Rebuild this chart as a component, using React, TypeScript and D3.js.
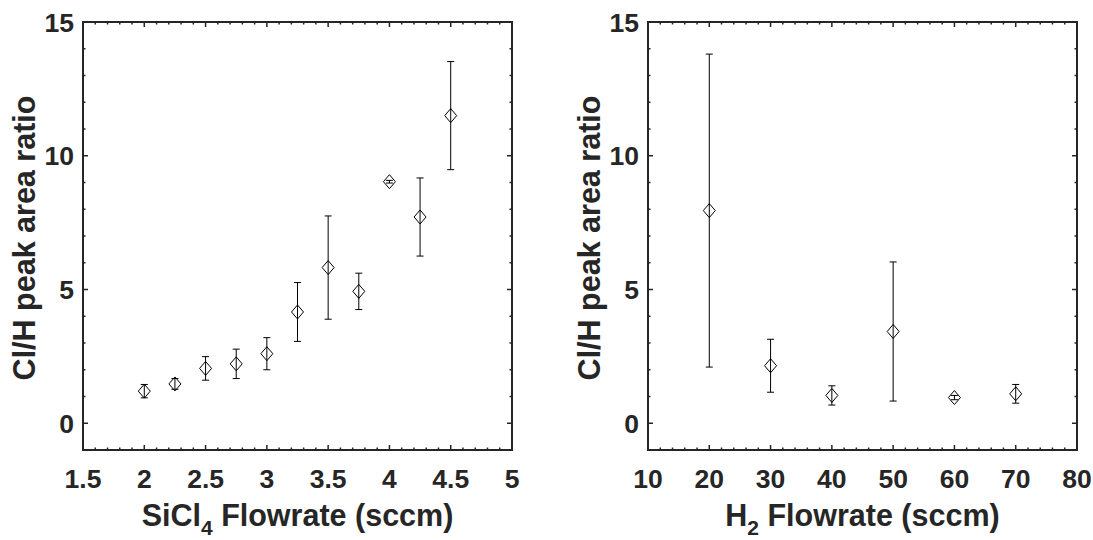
import React from "react";
import * as d3 from "d3";

const sicl4X = [2, 2.25, 2.5, 2.75, 3, 3.25, 3.5, 3.75, 4, 4.25, 4.5];
const sicl4Y = [1.2, 1.47, 2.05, 2.22, 2.6, 4.16, 5.82, 4.93, 9.03, 7.71, 11.5];
const sicl4Err = [0.25, 0.2, 0.44, 0.55, 0.6, 1.1, 1.93, 0.68, 0.05, 1.46, 2.02];

const h2X = [20, 30, 40, 50, 60, 70];
const h2Y = [7.95, 2.15, 1.04, 3.43, 0.96, 1.1];
const h2Err = [5.85, 0.99, 0.36, 2.6, 0.08, 0.35];

const leftXTicks = [1.5, 2, 2.5, 3, 3.5, 4, 4.5, 5];
const rightXTicks = [10, 20, 30, 40, 50, 60, 70, 80];
const yTicks = [0, 5, 10, 15];

const TXT = "#262626";
const FONT = "'Liberation Sans', Arial, sans-serif";

type PanelProps = {
  x0: number;
  xDomain: [number, number];
  xTicks: number[];
  xMinorStep: number;
  xs: number[];
  ys: number[];
  errs: number[];
  fmt: (v: number) => string;
  titleMain: string;
  titleSub: string;
  titleRest: string;
  yTitleX: number;
};

function Panel(p: PanelProps) {
  const top = 22;
  const bottom = 450;
  const w = 429;
  const x = d3.scaleLinear().domain(p.xDomain).range([p.x0, p.x0 + w]);
  const y = d3.scaleLinear().domain([-1, 15]).range([bottom, top]);
  const xMinor = d3.range(p.xDomain[0], p.xDomain[1] + 1e-9, p.xMinorStep);
  const yMinor = d3.range(-1, 15.0001, 1);
  const majL = 5;
  const minL = 2.5;
  const isMajorX = (v: number) => p.xTicks.some((t) => Math.abs(t - v) < 1e-6);
  const isMajorY = (v: number) => yTicks.some((t) => Math.abs(t - v) < 1e-6);
  const left = p.x0;
  const right = p.x0 + w;
  return (
    <g>
      {xMinor.map((v, i) => {
        const L = isMajorX(v) ? majL : minL;
        const xx = x(v);
        return (
          <g key={"xt" + i} stroke={TXT} strokeWidth={1.5}>
            <line x1={xx} x2={xx} y1={bottom} y2={bottom - L} />
            <line x1={xx} x2={xx} y1={top} y2={top + L} />
          </g>
        );
      })}
      {yMinor.map((v, i) => {
        const L = isMajorY(v) ? majL : minL;
        const yy = y(v);
        return (
          <g key={"yt" + i} stroke={TXT} strokeWidth={1.5}>
            <line x1={left} x2={left + L} y1={yy} y2={yy} />
            <line x1={right} x2={right - L} y1={yy} y2={yy} />
          </g>
        );
      })}
      <rect x={left} y={top} width={w} height={bottom - top} fill="none" stroke={TXT} strokeWidth={2} />
      {p.xTicks.map((t, i) => (
        <text
          key={"xl" + i}
          x={x(t)}
          y={488}
          textAnchor="middle"
          fontFamily={FONT}
          fontWeight="bold"
          fontSize={26.5}
          fill={TXT}
        >
          {p.fmt(t)}
        </text>
      ))}
      {yTicks.map((t, i) => (
        <text
          key={"yl" + i}
          x={left - 9}
          y={y(t) + 9.5}
          textAnchor="end"
          fontFamily={FONT}
          fontWeight="bold"
          fontSize={26.5}
          fill={TXT}
        >
          {t}
        </text>
      ))}
      <text
        x={(left + right) / 2}
        y={526}
        textAnchor="middle"
        fontFamily={FONT}
        fontWeight="bold"
        fontSize={30.5}
        fill={TXT}
      >
        {p.titleMain}
        <tspan dy={9} fontSize={21}>
          {p.titleSub}
        </tspan>
        <tspan dy={-9}>{" " + p.titleRest}</tspan>
      </text>
      <text
        transform={`translate(${p.yTitleX},${(top + bottom) / 2 + 2}) rotate(-90)`}
        textAnchor="middle"
        fontFamily={FONT}
        fontWeight="bold"
        fontSize={30.5}
        fill={TXT}
      >
        Cl/H peak area ratio
      </text>
      {p.xs.map((xv, i) => {
        const cx = x(xv);
        const cy = y(p.ys[i]);
        const yt = y(p.ys[i] + p.errs[i]);
        const yb = y(p.ys[i] - p.errs[i]);
        const cap = 3.5;
        return (
          <g key={"pt" + i} stroke="#000" strokeWidth={1} fill="none">
            <line x1={cx} x2={cx} y1={yt} y2={yb} />
            <line x1={cx - cap} x2={cx + cap} y1={yt} y2={yt} />
            <line x1={cx - cap} x2={cx + cap} y1={yb} y2={yb} />
            <path d={`M${cx},${cy - 7}L${cx + 6},${cy}L${cx},${cy + 7}L${cx - 6},${cy}Z`} />
          </g>
        );
      })}
    </g>
  );
}

export default function App() {
  return (
    <svg
      width={1093}
      height={540}
      style={{ position: "absolute", left: 0, top: 0, background: "#fff" }}
    >
      <rect width={1093} height={540} fill="#fff" />
      <Panel
        x0={83}
        xDomain={[1.5, 5]}
        xTicks={leftXTicks}
        xMinorStep={0.1}
        xs={sicl4X}
        ys={sicl4Y}
        errs={sicl4Err}
        fmt={(v) => String(v)}
        titleMain="SiCl"
        titleSub="4"
        titleRest="Flowrate (sccm)"
        yTitleX={35}
      />
      <Panel
        x0={648}
        xDomain={[10, 80]}
        xTicks={rightXTicks}
        xMinorStep={2}
        xs={h2X}
        ys={h2Y}
        errs={h2Err}
        fmt={(v) => String(v)}
        titleMain="H"
        titleSub="2"
        titleRest="Flowrate (sccm)"
        yTitleX={600}
      />
    </svg>
  );
}
